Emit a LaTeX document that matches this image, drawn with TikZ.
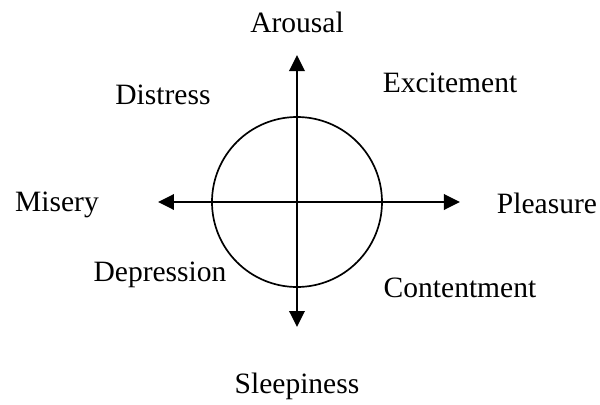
\documentclass[tikz,border=0pt]{standalone}
\usepackage{fontspec}
\setmainfont{Liberation Serif}
\usetikzlibrary{arrows.meta}
\begin{document}
\begin{tikzpicture}[
    axis/.style={line width=2pt, -{Triangle[length=0.4cm,width=0.38cm]}},
    mood/.style={font=\fontsize{21}{25}\selectfont, inner sep=0pt}
  ]
    \useasboundingbox (-7.425,-5.075) rectangle (7.575,5.05);
    % Circle in the middle
    \node[circle, draw, line width=1.2pt, minimum size=4.25cm, inner sep=0pt] (core) at (0,0) {};
    % Axis ends
    \coordinate (west) at (-3.475,0);
    \coordinate (east) at (4.075,0);
    \coordinate (north) at (0,3.675);
    \coordinate (south) at (0,-3.125);
    \draw[axis] (core.center) -- (west);
    \draw[axis] (core.center) -- (east);
    \draw[axis] (core.center) -- (north);
    \draw[axis] (core.center) -- (south);
    % Axis labels
    \node[mood] (arousal) at (0,4.5) {Arousal};
    \node[mood] (sleepiness) at (0,-4.62) {Sleepiness};
    \node[mood] (misery) at (-6.0,-0.08) {Misery};
    \node[mood] (pleasure) at (6.25,-0.03) {Pleasure};
    % Quadrant labels
    \node[mood] (excitement) at (3.825,2.975) {Excitement};
    \node[mood] (distress) at (-3.35,2.675) {Distress};
    \node[mood] (depression) at (-3.425,-1.83) {Depression};
    \node[mood] (contentment) at (4.075,-2.15) {Contentment};
\end{tikzpicture}
\end{document}
